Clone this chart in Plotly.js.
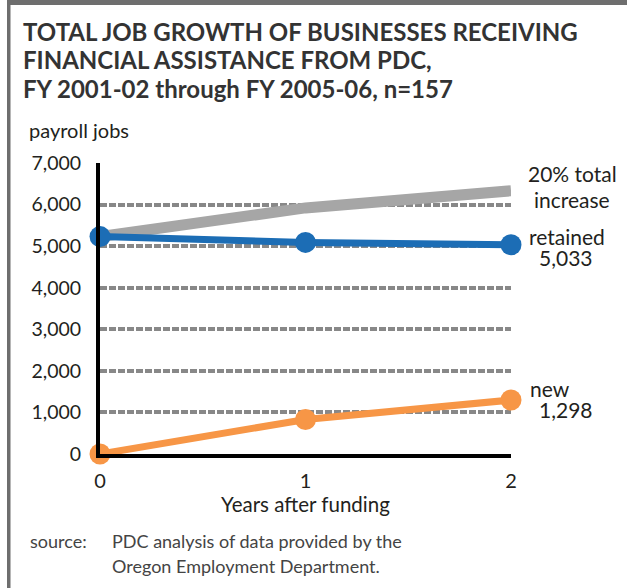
<!DOCTYPE html>
<html>
<head>
<meta charset="utf-8">
<script src="https://cdn.plot.ly/plotly-3.0.1.min.js"></script>
<style>
  html, body { margin: 0; padding: 0; background: #fff; }
  #chart { width: 627px; height: 588px; }
</style>
</head>
<body>
<div id="chart"></div>
<script>
// ---- data ----
const years = [0, 1, 2];
const retained = [5230, 5090, 5033];
const newJobs = [0, 830, 1298];
const total = [5230, 5920, 6331];
const yTicks = [0, 1000, 2000, 3000, 4000, 5000, 6000, 7000];
const yTickLabels = ["0", "1,000", "2,000", "3,000", "4,000", "5,000", "6,000", "7,000"];
const xTickLabels = ["0", "1", "2"];
const titleLines = ["TOTAL JOB GROWTH OF BUSINESSES RECEIVING",
                    "FINANCIAL ASSISTANCE FROM PDC,",
                    "FY 2001-02 through FY 2005-06, n=157"];

const W = 627, H = 588;
const M = {l: 100, r: 116, t: 163, b: 134};
const pw = W - M.l - M.r, ph = H - M.t - M.b;
const px = p => (p - M.l) / pw;          // pixel -> paper x
const py = p => (H - M.b - p) / ph;      // pixel -> paper y

const FONT = "Lato, 'Open Sans', sans-serif";
const TXT = "#231f20";
const fmt = v => v.toLocaleString("en-US");

const traces = [
  {x: years, y: total, type: "scatter", mode: "lines",
   line: {color: "#a6a6a6", width: 11}, cliponaxis: false, hoverinfo: "skip"},
  {x: years, y: retained, type: "scatter", mode: "lines+markers",
   line: {color: "#1c6db5", width: 7}, marker: {color: "#1c6db5", size: 21},
   cliponaxis: false},
  {x: years, y: newJobs, type: "scatter", mode: "lines+markers",
   line: {color: "#f79646", width: 7}, marker: {color: "#f79646", size: 21},
   cliponaxis: false}
];

const last = years.length - 1;
function label(text, xpix, ypix, anchor, size, color) {
  return {xref: "paper", yref: "paper", x: px(xpix), y: py(ypix),
          xanchor: anchor, yanchor: "middle", text: text, showarrow: false,
          font: {size: size || 21, color: color || TXT}};
}
const titleAnns = titleLines.map((t, i) => ({
  xref: "paper", yref: "paper", x: px(21), y: py(31 + i * 28.5),
  xanchor: "left", yanchor: "middle", text: "<b>" + t + "</b>", showarrow: false,
  font: {size: 24, color: "#333"}
}));

const layout = {
  width: W, height: H,
  margin: M,
  paper_bgcolor: "#fff", plot_bgcolor: "#fff",
  showlegend: false,
  font: {family: FONT, color: TXT, size: 19},
  xaxis: {
    range: [0, 2], tickvals: years, ticktext: xTickLabels,
    showgrid: false, zeroline: false,
    showline: true, linecolor: "#000", linewidth: 4,
    ticks: "", ticklabelstandoff: 6,
    tickfont: {size: 20, color: TXT},
    title: {text: "Years after funding", font: {size: 20.5, color: TXT}, standoff: 2}
  },
  yaxis: {
    range: [0, 7000], tickvals: yTicks, ticktext: yTickLabels,
    showgrid: true, gridcolor: "#888", gridwidth: 4, griddash: "7px,2px",
    zeroline: false, showline: true, linecolor: "#000", linewidth: 4,
    ticks: "", ticklabelstandoff: 11,
    tickfont: {size: 19.5, color: TXT}
  },
  shapes: [
    {type: "rect", xref: "paper", yref: "paper",
     x0: px(7), x1: px(10.5), y0: py(H), y1: py(0),
     fillcolor: "#6e6e6e", line: {width: 0}},
    {type: "rect", xref: "paper", yref: "paper",
     x0: px(7), x1: px(W + 2), y0: py(5), y1: py(0),
     fillcolor: "#6e6e6e", line: {width: 0}}
  ],
  annotations: titleAnns.concat([
    label("payroll jobs", 27, 130, "left", 20),
    label("20% total", 572, 173, "center"),
    label("increase", 572, 199, "center"),
    label("retained", 567, 236, "center"),
    label(fmt(retained[last]), 566, 257, "center"),
    label("new", 528, 388, "left"),
    label(fmt(newJobs[last]), 537, 409, "left"),
    label("source:", 28, 541, "left", 18, "#444"),
    label("PDC analysis of data provided by the", 110, 541, "left", 18, "#444"),
    label("Oregon Employment Department.", 110, 566, "left", 18, "#444")
  ])
};

Plotly.newPlot("chart", traces, layout, {displayModeBar: false, staticPlot: true});
</script>
</body>
</html>
